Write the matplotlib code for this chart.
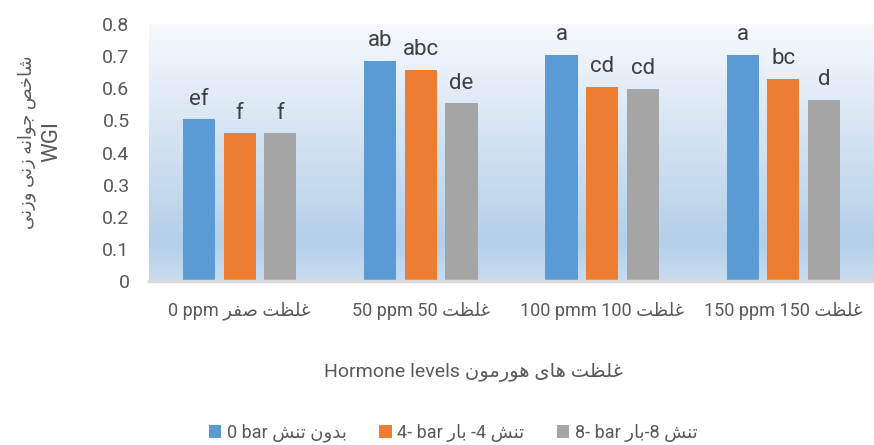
import matplotlib
matplotlib.use("Agg")
from matplotlib import pyplot as plt
from matplotlib.colors import LinearSegmentedColormap
import numpy as np

# data
groups = ["0", "50", "100", "150"]
blue_vals = [0.503, 0.685, 0.705, 0.705]
orange_vals = [0.460, 0.657, 0.604, 0.630]
grey_vals = [0.460, 0.553, 0.599, 0.563]
blue_letters = ["ef", "ab", "a", "a"]
orange_letters = ["f", "abc", "cd", "bc"]
grey_letters = ["f", "de", "cd", "d"]
yticks = [0, 0.1, 0.2, 0.3, 0.4, 0.5, 0.6, 0.7, 0.8]

# simple arabic shaping (matplotlib has no complex text layout)
FORMS = {
    "ا": ("\ufe8d", "\ufe8e", None, None),
    "ب": ("\ufe8f", "\ufe90", "\ufe91", "\ufe92"),
    "ت": ("\ufe95", "\ufe96", "\ufe97", "\ufe98"),
    "ج": ("\ufe9d", "\ufe9e", "\ufe9f", "\ufea0"),
    "ح": ("\ufea1", "\ufea2", "\ufea3", "\ufea4"),
    "خ": ("\ufea5", "\ufea6", "\ufea7", "\ufea8"),
    "د": ("\ufea9", "\ufeaa", None, None),
    "ر": ("\ufead", "\ufeae", None, None),
    "ز": ("\ufeaf", "\ufeb0", None, None),
    "ش": ("\ufeb5", "\ufeb6", "\ufeb7", "\ufeb8"),
    "ص": ("\ufeb9", "\ufeba", "\ufebb", "\ufebc"),
    "ظ": ("\ufec5", "\ufec6", "\ufec7", "\ufec8"),
    "غ": ("\ufecd", "\ufece", "\ufecf", "\ufed0"),
    "ف": ("\ufed1", "\ufed2", "\ufed3", "\ufed4"),
    "ل": ("\ufedd", "\ufede", "\ufedf", "\ufee0"),
    "م": ("\ufee1", "\ufee2", "\ufee3", "\ufee4"),
    "ن": ("\ufee5", "\ufee6", "\ufee7", "\ufee8"),
    "ه": ("\ufee9", "\ufeea", "\ufeeb", "\ufeec"),
    "و": ("\ufeed", "\ufeee", None, None),
    "ی": ("\ufbfc", "\ufbfd", "\ufbfe", "\ufbff"),
}


def ar(text):
    out = []
    for i, ch in enumerate(text):
        if ch not in FORMS:
            out.append(ch)
            continue
        prev = text[i - 1] if i > 0 else ""
        nxt = text[i + 1] if i + 1 < len(text) else ""
        join_prev = prev in FORMS and FORMS[prev][2] is not None
        join_next = nxt in FORMS and FORMS[ch][2] is not None
        iso, fin, ini, med = FORMS[ch]
        if join_prev and join_next:
            out.append(med)
        elif join_prev:
            out.append(fin)
        elif join_next:
            out.append(ini)
        else:
            out.append(iso)
    return "".join(out[::-1])


cat_labels = [
    "0 ppm " + ar("غلظت صفر"),
    "50 ppm 50 " + ar("غلظت"),
    "100 pmm 100 " + ar("غلظت"),
    "150 ppm 150 " + ar("غلظت"),
]
legend_labels = [
    "0 bar " + ar("بدون تنش"),
    "4- bar " + ar("بار") + " -4 " + ar("تنش"),
    "8- bar " + ar("بار") + "-8 " + ar("تنش"),
]
xlabel = "Hormone levels " + ar("غلظت های هورمون")
ylabel_fa = ar("شاخص جوانه زنی وزنی")
ylabel_en = "WGI"

FONT = ["Roboto", "DejaVu Sans"]
plt.rcParams["font.family"] = FONT

fig = plt.figure(figsize=(8.74, 4.45), dpi=100)
ax = fig.add_axes([149 / 874, 1 - 281 / 445, 725 / 874, 257 / 445])

# gradient background of the plot area
cmap = LinearSegmentedColormap.from_list(
    "bg", [(0, "#c8dcf0"), (0.15, "#b4cfe9"), (0.55, "#d3e3f2"), (1, "#f6f9fd")])
grad = np.linspace(0, 1, 256).reshape(-1, 1)
ax.imshow(grad, extent=[-0.5, 3.5, 0, 0.8], origin="lower", aspect="auto",
          cmap=cmap, zorder=0)

x = np.arange(len(groups))
w = 0.177
off = 0.224
series = [(blue_vals, blue_letters, "#5b9bd5", -off),
          (orange_vals, orange_letters, "#ed7d31", 0),
          (grey_vals, grey_letters, "#a5a5a5", off)]
handles = []
for vals, letters, col, dx in series:
    b = ax.bar(x + dx, vals, width=w, color=col, zorder=2)
    handles.append(b)
    for xi, v, t in zip(x + dx, vals, letters):
        ax.annotate(t, (xi, v), xytext=(0, 7), textcoords="offset points",
                    ha="center", va="bottom", fontsize=16, color="#404040")

ax.set_xlim(-0.5, 3.5)
ax.set_ylim(0, 0.8)
ax.set_yticks(yticks)
ax.set_yticklabels([("%g" % t) for t in yticks], fontsize=14, color="#595959")
ax.set_xticks(x)
ax.set_xticklabels(cat_labels, fontsize=13, color="#595959")
ax.tick_params(axis="both", length=0)
ax.tick_params(axis="x", pad=15)
ax.tick_params(axis="y", pad=14)
for s in ["top", "right", "left"]:
    ax.spines[s].set_visible(False)
ax.spines["bottom"].set_color("#d9d9d9")
ax.spines["bottom"].set_linewidth(2.5)
ax.spines["bottom"].set_zorder(3)

fig.text(473 / 874, 1 - 372 / 445, xlabel, ha="center", va="center",
         fontsize=14, color="#595959")
fig.text(27 / 874, 1 - 142 / 445, ylabel_fa, rotation=90, ha="center", va="center",
         fontsize=13, color="#595959")
fig.text(52 / 874, 1 - 141 / 445, ylabel_en, rotation=90, ha="center", va="center",
         fontsize=16, color="#595959")

fig.legend(handles, legend_labels, loc="center", bbox_to_anchor=(453 / 874, 1 - 433 / 445),
           ncol=3, frameon=False, fontsize=13, handlelength=0.7, handleheight=0.7,
           handletextpad=0.3, columnspacing=1.8, labelcolor="#595959")

plt.savefig("out.png", dpi=100)
